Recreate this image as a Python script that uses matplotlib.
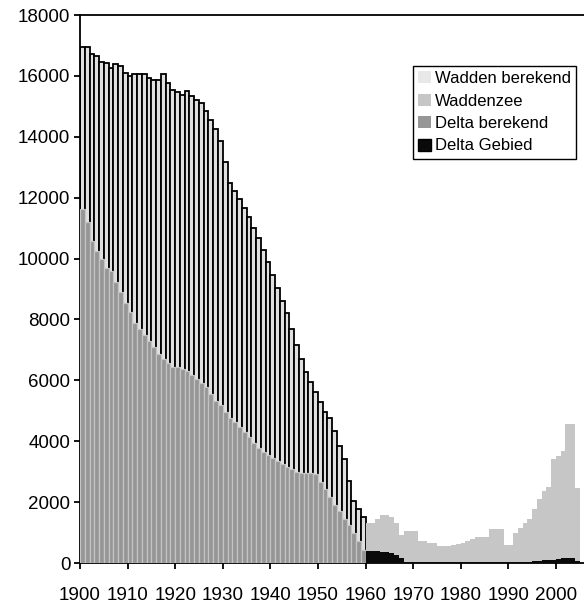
import matplotlib
matplotlib.use("Agg")
import matplotlib.pyplot as plt
from matplotlib.patches import Patch

plt.rcParams['font.family'] = ['Liberation Sans', 'DejaVu Sans']

# ---- data ----
years_early = list(range(1900, 1960))
wadden_berekend = [16950, 16950, 16720, 16650, 16450, 16430, 16260, 16400, 16330, 16080,
                   16000, 16070, 16070, 16070, 15940, 15870, 15850, 16070, 15760, 15540,
                   15480, 15370, 15520, 15350, 15200, 15110, 14850, 14560, 14240, 13850,
                   13170, 12470, 12210, 11950, 11660, 11360, 11010, 10680, 10290, 9890,
                   9450, 9030, 8600, 8200, 7670, 7150, 6690, 6290, 5940, 5610,
                   5300, 4970, 4750, 4350, 3850, 3430, 2705, 2045, 1780, 1520]
delta_berekend = [11620, 11200, 10570, 10245, 9980, 9700, 9590, 9240, 8910, 8540,
                  8260, 7890, 7670, 7495, 7300, 7080, 6865, 6710, 6555, 6450,
                  6425, 6360, 6295, 6165, 6055, 5925, 5770, 5555, 5335, 5180,
                  4965, 4770, 4640, 4460, 4310, 4135, 3940, 3765, 3635, 3545,
                  3435, 3350, 3260, 3150, 3085, 2980, 2950, 2950, 2950, 2930,
                  2660, 2440, 2160, 1895, 1720, 1455, 1240, 995, 730, 430]

years_late = list(range(1960, 2005))
waddenzee = [1325, 1330, 1455, 1585, 1585, 1520, 1325, 930, 1040, 1040,
             1040, 735, 735, 670, 650, 570, 560, 560, 590, 620,
             670, 735, 800, 845, 865, 865, 1105, 1130, 1130, 600,
             600, 975, 1150, 1325, 1455, 1765, 2090, 2375, 2485, 3405,
             3500, 3690, 4550, 4550, 2455]
delta_gebied = [380, 390, 380, 360, 350, 320, 250, 180, 40, 20,
                20, 20, 20, 20, 20, 20, 20, 20, 20, 20,
                20, 20, 20, 20, 20, 20, 20, 20, 20, 20,
                20, 20, 20, 20, 20, 60, 80, 90, 100, 110,
                120, 150, 170, 160, 80]

labels = ['Wadden berekend', 'Waddenzee', 'Delta berekend', 'Delta Gebied']
xticks = list(range(1900, 2001, 10))
yticks = list(range(0, 18001, 2000))

c_wb = '#e0e0e0'
c_wz = '#c6c6c6'
c_db = '#969696'
c_dg = '#0a0a0a'

fig = plt.figure(figsize=(5.84, 6.05), dpi=100)
ax = fig.add_axes([80/584, 1-563/605, 504/584, (563-15)/605])

ax.bar(years_early, wadden_berekend, width=1.0, align='edge', color=c_wb,
       edgecolor='black', linewidth=1.3, zorder=2)
ax.bar(years_early, delta_berekend, width=1.0, align='edge', color=c_db,
       edgecolor='#c4c4c4', linewidth=0.9, zorder=3)
ax.bar(years_late, waddenzee, width=1.0, align='edge', color=c_wz,
       edgecolor='none', linewidth=0, zorder=2)
ax.bar(years_late, delta_gebied, width=1.0, align='edge', color=c_dg,
       edgecolor='none', linewidth=0, zorder=3)

ax.set_xlim(1900, 2005.9)
ax.set_ylim(0, 18000)
ax.set_xticks(xticks)
ax.set_xticklabels([str(t) for t in xticks])
ax.set_yticks(yticks)
ax.set_yticklabels([str(t) for t in yticks])
ax.tick_params(axis='x', direction='out', length=4, width=1.3, pad=13, labelsize=13.6)
ax.tick_params(axis='y', direction='out', length=4, width=1.3, pad=3, labelsize=13.5)

for s in ['left', 'bottom', 'top']:
    ax.spines[s].set_linewidth(1.3)
    ax.spines[s].set_color('black')
ax.spines['right'].set_visible(False)

handles = [Patch(facecolor='#e8e8e8', edgecolor='none'),
           Patch(facecolor=c_wz, edgecolor='none'),
           Patch(facecolor=c_db, edgecolor='none'),
           Patch(facecolor=c_dg, edgecolor='black')]
leg = ax.legend(handles, labels, loc='upper left',
                bbox_to_anchor=(413/584, 1-66/605), bbox_transform=fig.transFigure,
                fontsize=12, frameon=True, fancybox=False, framealpha=1,
                handlelength=0.75, handleheight=0.75, handletextpad=0.25,
                labelspacing=0.45, borderpad=0.3, borderaxespad=0)
leg.get_frame().set_edgecolor('black')
leg.get_frame().set_linewidth(1.0)

fig.savefig('out.png', dpi=100)
